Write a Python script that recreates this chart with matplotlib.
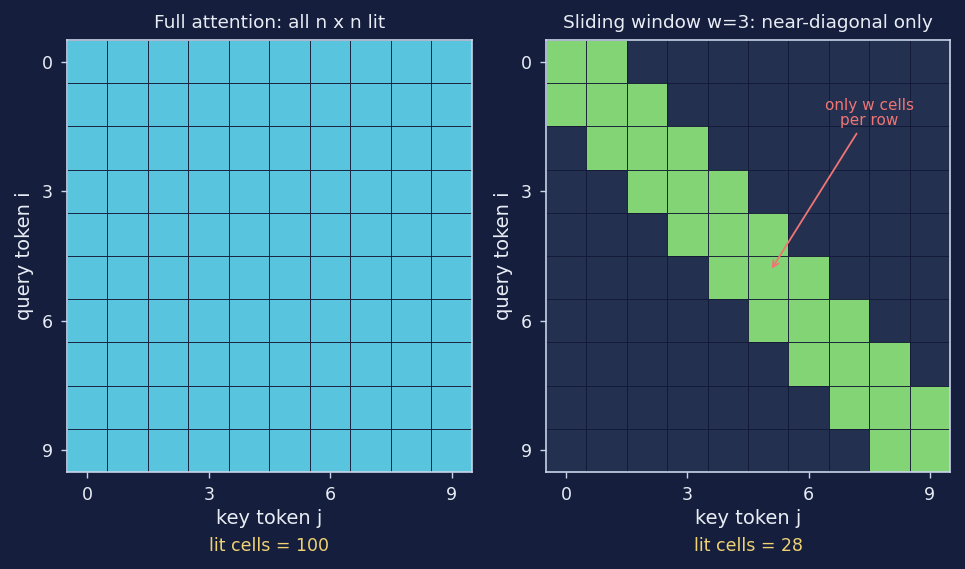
import numpy as np
import matplotlib
matplotlib.use("Agg")
import matplotlib.pyplot as plt
from matplotlib.colors import ListedColormap

BG = "#151f3d"
FG = "#e8edf5"

n = 10
ticks = [0, 3, 6, 9]
# sliding window: lit key columns per query row (inclusive)
window_start = [0, 0, 1, 2, 3, 4, 5, 6, 7, 8]
window_end = [1, 2, 3, 4, 5, 6, 7, 8, 9, 9]
titles = ["Full attention: all n x n lit", "Sliding window w=3: near-diagonal only"]

full_mask = np.ones((n, n))
win_mask = np.zeros((n, n))
for i, (a, b) in enumerate(zip(window_start, window_end)):
    win_mask[i, a:b + 1] = 1

fig = plt.figure(figsize=(9.65, 5.69), dpi=100, facecolor=BG)
ax1 = fig.add_axes([0.0694, 0.1705, 0.4196, 0.7592])
ax2 = fig.add_axes([0.5658, 0.1705, 0.4187, 0.7592])

cmaps = [ListedColormap(["#243050", "#58c4dd"]), ListedColormap(["#243050", "#83d474"])]
for ax, mask, cmap, title in zip([ax1, ax2], [full_mask, win_mask], cmaps, titles):
    ax.set_facecolor(BG)
    ax.pcolormesh(np.arange(n + 1) - 0.5, np.arange(n + 1) - 0.5, mask, cmap=cmap,
                  vmin=0, vmax=1, edgecolors="#131a36", linewidth=0.6,
                  antialiased=True)
    ax.set_xlim(-0.5, n - 0.5)
    ax.set_ylim(n - 0.5, -0.5)
    ax.set_xticks(ticks)
    ax.set_yticks(ticks)
    ax.tick_params(colors=FG, labelsize=12.5, length=4, width=1, color="#c8d4e8", pad=6)
    for s in ax.spines.values():
        s.set_color("#c8d4e8")
        s.set_linewidth(1.2)
    ax.set_title(title, color=FG, fontsize=13.3, pad=9)
    ax.set_xlabel("key token j", color=FG, fontsize=14, labelpad=4)
    ax.set_ylabel("query token i", color=FG, fontsize=14, labelpad=6)
    lit = int(mask.sum())
    ax.text(0.5, -0.172, f"lit cells = {lit}", transform=ax.transAxes, ha="center",
            va="center", color="#f0d272", fontsize=12.5)

ax2.annotate("only w cells\nper row", xy=(5.05, 4.85), xytext=(7.5, 1.2),
             ha="center", va="center", color="#f07575", fontsize=11, linespacing=1.0,
             arrowprops=dict(arrowstyle="->", color="#f07575", lw=1.3))

fig.savefig("out.png", dpi=100, facecolor=BG)
